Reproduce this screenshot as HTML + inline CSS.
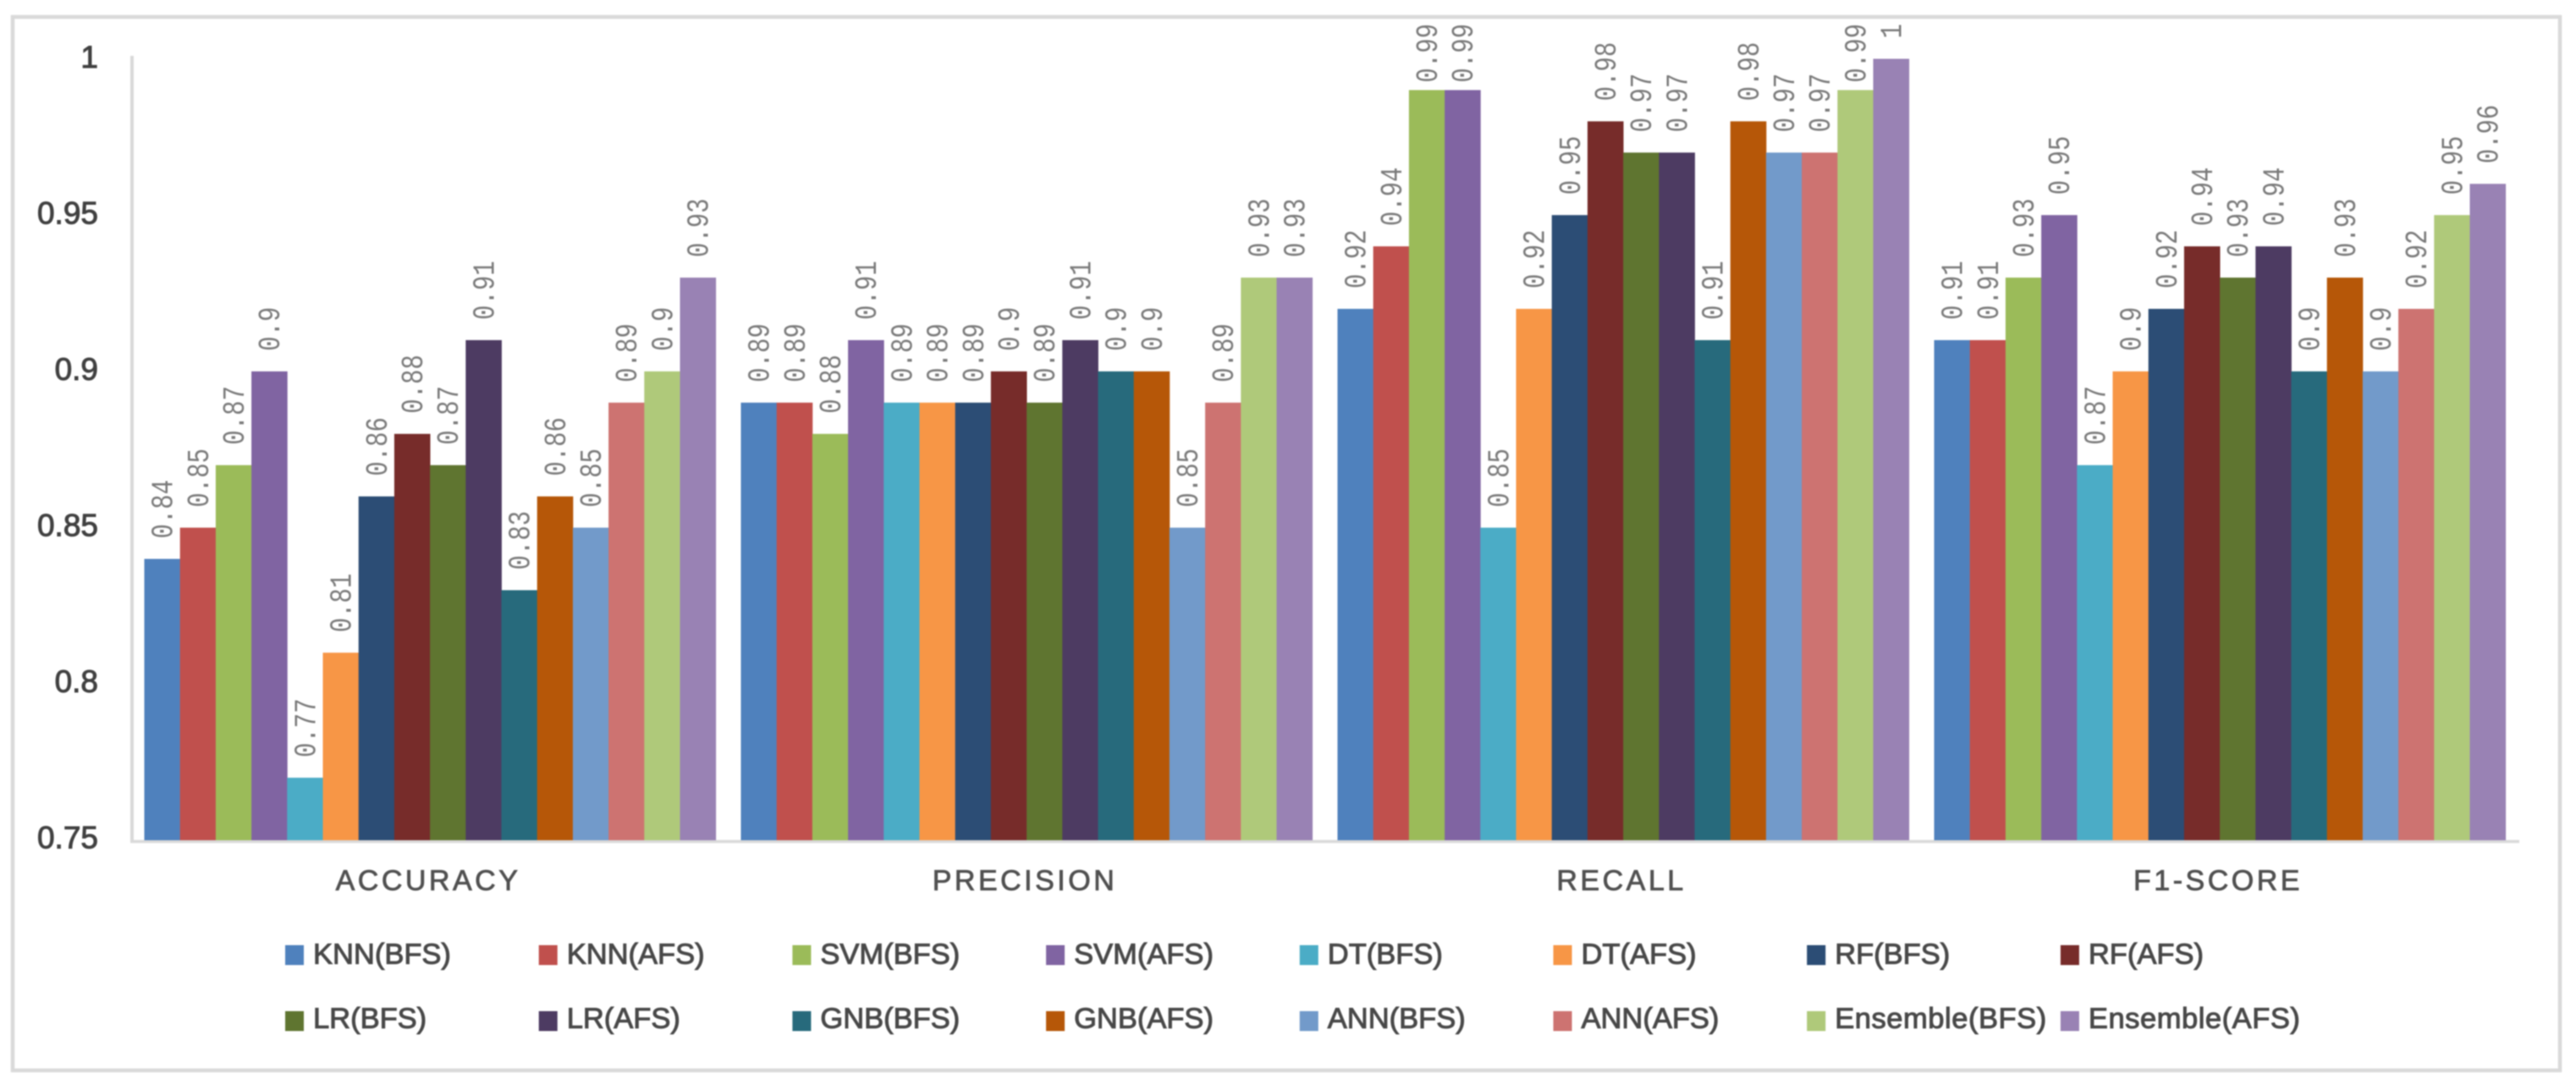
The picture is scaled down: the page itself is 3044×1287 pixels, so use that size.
<!DOCTYPE html>
<html lang="en">
<head>
<meta charset="utf-8">
<title>Model metrics before and after feature selection</title>
<style>
html,body{margin:0;padding:0;background:#fff;width:3044px;height:1287px;overflow:hidden}
svg{display:block;filter:blur(0.8px)}
text{font-family:"Liberation Sans",sans-serif}
.tick{font-size:37px;fill:#404040;text-anchor:end;stroke:#404040;stroke-width:1px}
.cat{font-size:34px;fill:#505050;text-anchor:middle;letter-spacing:3.5px;stroke:#505050;stroke-width:.8px}
.leg{font-size:34.5px;fill:#484848;stroke:#484848;stroke-width:1px}
.val{font-family:"Liberation Mono",monospace;font-size:29px;fill:#7a7a7a}
</style>
</head>
<body>
<svg id="chart" xmlns="http://www.w3.org/2000/svg" width="3044" height="1287" viewBox="0 0 3044 1287">
  <rect x="0" y="0" width="3044" height="1287" fill="#fff"/>
  <rect x="15" y="20" width="3010" height="1245" fill="#fff" stroke="#d9d9d9" stroke-width="4.5"/>
  <line x1="156" y1="66" x2="156" y2="996" stroke="#d9d9d9" stroke-width="4"/>
  <line x1="154" y1="994.5" x2="2977" y2="994.5" stroke="#d9d9d9" stroke-width="3.5"/>
  <g id="ticks"></g>
  <g id="bars"></g>
  <g id="labels"></g>
  <g id="cats"></g>
  <g id="legend"></g>
</svg>
<script>
var categories = ['ACCURACY', 'PRECISION', 'RECALL', 'F1-SCORE'];
var seriesNames = ['KNN(BFS)', 'KNN(AFS)', 'SVM(BFS)', 'SVM(AFS)', 'DT(BFS)', 'DT(AFS)', 'RF(BFS)', 'RF(AFS)', 'LR(BFS)', 'LR(AFS)', 'GNB(BFS)', 'GNB(AFS)', 'ANN(BFS)', 'ANN(AFS)', 'Ensemble(BFS)', 'Ensemble(AFS)'];
var seriesColors = ['#4f81bd', '#c0504d', '#9bbb59', '#8064a2', '#4bacc6', '#f79646', '#2c4d75', '#772c2a', '#5f7530', '#4d3b62', '#276a7c', '#b65708', '#729aca', '#cd7371', '#afc97a', '#9982b4'];
var accuracyValues = [0.84, 0.85, 0.87, 0.9, 0.77, 0.81, 0.86, 0.88, 0.87, 0.91, 0.83, 0.86, 0.85, 0.89, 0.9, 0.93];
var precisionValues = [0.89, 0.89, 0.88, 0.91, 0.89, 0.89, 0.89, 0.9, 0.89, 0.91, 0.9, 0.9, 0.85, 0.89, 0.93, 0.93];
var recallValues = [0.92, 0.94, 0.99, 0.99, 0.85, 0.92, 0.95, 0.98, 0.97, 0.97, 0.91, 0.98, 0.97, 0.97, 0.99, 1];
var f1Values = [0.91, 0.91, 0.93, 0.95, 0.87, 0.9, 0.92, 0.94, 0.93, 0.94, 0.9, 0.93, 0.9, 0.92, 0.95, 0.96];
var metricValues = [accuracyValues, precisionValues, recallValues, f1Values];
var tickValues = [1, 0.95, 0.9, 0.85, 0.8, 0.75];

var NS = 'http://www.w3.org/2000/svg';
var yMin = 0.75, yMax = 1, yTop = 69.5, yBottom = 993;
var plotLeft = 155.5, groupPitch = 705, groupPad = 15, barWidth = 42.2;

function yScale(v) { return yTop + (yMax - v) / (yMax - yMin) * (yBottom - yTop); }
function tickCenter(v) { return 66.5 + (yMax - v) / (yMax - yMin) * 922.5; }
function groupX(g) { return plotLeft + g * groupPitch; }
function barX(g, s) { return groupX(g) + groupPad + s * barWidth; }
function make(tag, parent, attrs, txt) {
  var el = document.createElementNS(NS, tag);
  for (var k in attrs) el.setAttribute(k, attrs[k]);
  if (txt !== undefined) el.textContent = txt;
  parent.appendChild(el);
  return el;
}

var tickGroup = document.getElementById('ticks');
tickValues.forEach(function (v) {
  var t = make('text', tickGroup, { 'class': 'tick', x: 116, y: tickCenter(v) + 13.5 }, String(v));
  
  
});

var barGroup = document.getElementById('bars');
var labelGroup = document.getElementById('labels');
metricValues.forEach(function (vals, g) {
  vals.forEach(function (v, s) {
    var top = yScale(v);
    var x = barX(g, s);
    var r = make('rect', barGroup, { x: x, y: top, width: barWidth + 0.4, height: yBottom - top, fill: seriesColors[s] });
    
    
    var str = String(v);
    var len = str.length * 17.4 - 4;
    var bottom = top - 24;
    if (bottom - len < 32) bottom = 32 + len;
    var cx = x + barWidth / 2;
    var l = make('text', labelGroup, { 'class': 'val', transform: 'translate(' + (cx + 12) + ',' + bottom + ') rotate(-90) scale(1,1.24)' }, str);
    
    
  });
});

var catGroup = document.getElementById('cats');
categories.forEach(function (c, g) {
  var t = make('text', catGroup, { 'class': 'cat', x: groupX(g) + groupPitch / 2 - 2, y: 1052 }, c);
  
  
});

var legendGroup = document.getElementById('legend');
var legendX = 337, legendPitch = 299.7, legendRows = [[1117, 1139], [1195, 1215]];
seriesNames.forEach(function (name, i) {
  var col = i % 8, row = Math.floor(i / 8);
  var x = legendX + col * legendPitch;
  var sw = make('rect', legendGroup, { x: x, y: legendRows[row][0], width: 22, height: 23.5, fill: seriesColors[i] });
  
  
  var t = make('text', legendGroup, { 'class': 'leg', x: x + 33, y: legendRows[row][1] }, name);
  
  
  if (name.length > 10) t.setAttribute('textLength', 250);
});
</script>
</body>
</html>
